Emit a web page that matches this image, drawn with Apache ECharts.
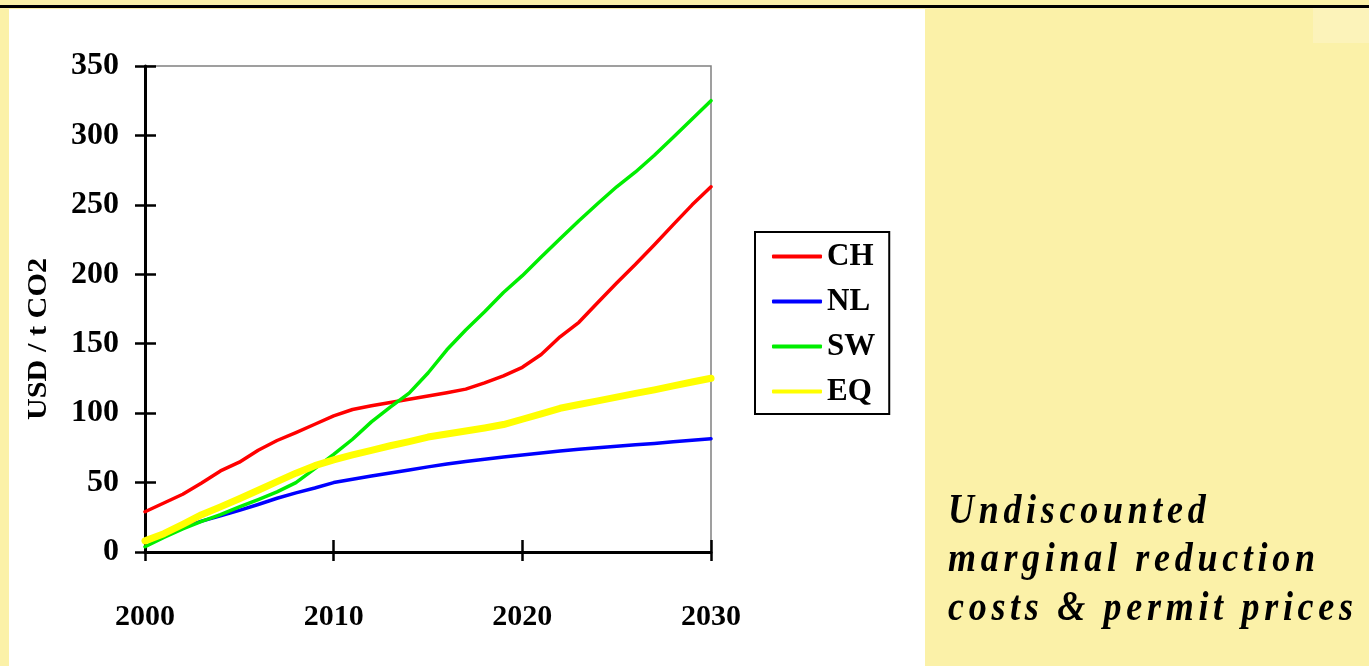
<!DOCTYPE html>
<html>
<head>
<meta charset="utf-8">
<script src="https://cdn.jsdelivr.net/npm/echarts@6/dist/echarts.min.js"></script>
<style>
  html, body { margin: 0; padding: 0; }
  body { width: 1369px; height: 666px; background: #FBF1A8; position: relative; overflow: hidden; }
  #rule { position: absolute; left: 0; top: 5px; width: 1369px; height: 3px; background: #000; }
  #patch { position: absolute; left: 1313px; top: 8px; width: 56px; height: 35px; background: #FCF3BA; }
  #panel { position: absolute; left: 9px; top: 9px; width: 916px; height: 657px; background: #fff; }
  #chart { position: absolute; left: 0; top: 0; width: 1369px; height: 666px; }
  #caption {
    position: absolute; left: 948px; top: 485px;
    font-family: "Liberation Serif", "Times New Roman", serif;
    font-weight: bold; font-style: italic; font-size: 36px; line-height: 42px;
    letter-spacing: 4.7px; color: #000; white-space: nowrap;
    transform: scaleY(1.15); transform-origin: 0 0;
  }
</style>
</head>
<body>
<div id="rule"></div>
<div id="patch"></div>
<div id="panel"></div>
<div id="chart"></div>
<div id="caption">Undiscounted<br>marginal reduction<br>costs &amp; permit prices</div>
<script>
// Years on the horizontal axis
const years = [2000, 2001, 2002, 2003, 2004, 2005, 2006, 2007, 2008, 2009,
               2010, 2011, 2012, 2013, 2014, 2015, 2016, 2017, 2018, 2019,
               2020, 2021, 2022, 2023, 2024, 2025, 2026, 2027, 2028, 2029, 2030];

// Cost paths, USD per tonne of CO2
const ch = [29, 35.3, 41.6, 49.7, 58.4, 64.7, 73.3, 80.3, 86, 92,
            98, 102.6, 105.3, 107.7, 110, 112.4, 114.7, 117.3, 121.8, 126.9,
            133, 142.2, 155, 165.4, 179.7, 193.7, 207.3, 221.3, 235.8, 250, 263];
const nl = [9, 13.4, 17.9, 22.2, 26, 30, 34.2, 38.7, 42.6, 46.1,
            50, 52.4, 54.8, 56.9, 59.1, 61.3, 63.3, 65.1, 66.8, 68.4,
            69.8, 71.3, 72.8, 74, 75.1, 76.2, 77.2, 78.2, 79.4, 80.5, 81.6];
const sw = [3.8, 10.5, 16.7, 22.1, 26.9, 32.5, 37.8, 43.3, 50, 60,
            70.3, 81.2, 93.7, 104.3, 114.4, 128.9, 145.6, 159.9, 173, 186.9,
            199, 212.4, 225.6, 238.6, 251, 263, 273.7, 285.7, 298.7, 311.8, 325];
const eq = [8, 13.2, 19.9, 26.9, 32.5, 38.4, 44.5, 50.7, 56.8, 62.2,
            66.4, 69.9, 73.2, 76.5, 79.5, 82.8, 85, 87.1, 89.3, 91.8,
            95.6, 99.5, 103.5, 106.2, 108.8, 111.5, 114.2, 116.8, 119.6, 122.4, 125.1];

const seriesNames = ['CH', 'NL', 'SW', 'EQ'];
const seriesColors = ['#FF0000', '#0000FF', '#00EE00', '#FFFF00'];
const seriesWidths = [3.5, 3.5, 3.5, 7];

const xTickLabels = ['2000', '2010', '2020', '2030'];
const yTickLabels = ['0', '50', '100', '150', '200', '250', '300', '350'];
const yAxisTitle = 'USD / t CO2';

const serif = '"Liberation Serif", "Times New Roman", serif';

const chart = echarts.init(document.getElementById('chart'), null, { renderer: 'canvas' });

const pairs = (vals) => years.map((y, i) => [y, vals[i]]);
const allValues = [ch, nl, sw, eq];

const labelStyle = { color: '#000', fontFamily: serif, fontWeight: 'bold', fontSize: 31 };

chart.setOption({
  animation: false,
  backgroundColor: 'transparent',
  grid: {
    left: 145, right: 658, top: 66, bottom: 114,
    show: true, borderColor: '#808080', borderWidth: 1.5, backgroundColor: 'transparent'
  },
  legend: {
    orient: 'vertical', left: 755, top: 232,
    itemWidth: 50, itemHeight: 4, itemGap: 14,
    padding: [9, 14, 7, 17],
    borderColor: '#000', borderWidth: 2, borderRadius: 0,
    backgroundColor: '#fff',
    icon: 'roundRect',
    textStyle: { color: '#000', fontFamily: serif, fontWeight: 'bold', fontSize: 31, lineHeight: 30 },
    data: seriesNames
  },
  xAxis: [
    {
      type: 'value', min: 2000, max: 2030, interval: 10, position: 'bottom',
      axisLine: { show: true, onZero: false, lineStyle: { color: '#000', width: 3 } },
      axisTick: { show: true, inside: false, length: 9, lineStyle: { color: '#000', width: 2.5 } },
      axisLabel: Object.assign({ margin: 50, formatter: (v) => xTickLabels[Math.round((v - 2000) / 10)] }, labelStyle, { fontSize: 30 }),
      splitLine: { show: false }
    },
    {
      type: 'value', min: 2000, max: 2030, interval: 10, position: 'bottom',
      axisLine: { show: false, onZero: false },
      axisTick: { show: true, inside: true, length: 12, lineStyle: { color: '#000', width: 2.5 } },
      axisLabel: { show: false },
      splitLine: { show: false }
    }
  ],
  yAxis: [
    {
      type: 'value', min: 0, max: 350, interval: 50, position: 'left',
      axisLine: { show: true, onZero: false, lineStyle: { color: '#000', width: 3 } },
      axisTick: { show: true, inside: false, length: 10, lineStyle: { color: '#000', width: 2.5 } },
      axisLabel: Object.assign({ margin: 26, formatter: (v) => yTickLabels[Math.round(v / 50)] }, labelStyle, { fontSize: 32 }),
      splitLine: { show: false }
    },
    {
      type: 'value', min: 0, max: 350, interval: 50, position: 'left',
      axisLine: { show: false, onZero: false },
      axisTick: { show: true, inside: true, length: 11, lineStyle: { color: '#000', width: 2.5 } },
      axisLabel: { show: false },
      splitLine: { show: false }
    }
  ],
  graphic: [
    {
      type: 'text', x: 39, y: 339, rotation: Math.PI / 2, scaleX: 1.12,
      style: {
        text: yAxisTitle, fill: '#000', font: 'bold 27px ' + serif,
        align: 'center', verticalAlign: 'middle'
      }
    }
  ],
  series: seriesNames.map((name, i) => ({
    name: name,
    type: 'line',
    xAxisIndex: 0, yAxisIndex: 0,
    data: pairs(allValues[i]),
    symbol: 'none',
    smooth: false,
    z: 3 + i,
    lineStyle: { color: seriesColors[i], width: seriesWidths[i], cap: 'round', join: 'round' },
    itemStyle: { color: seriesColors[i] }
  }))
});
</script>
</body>
</html>
